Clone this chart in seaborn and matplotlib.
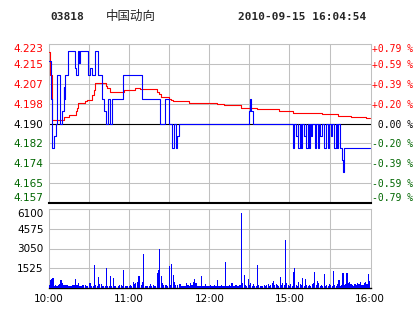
import numpy as np
import pandas as pd
import matplotlib
matplotlib.use("Agg")
import matplotlib.pyplot as plt
import seaborn as sns

# ---------------- data ----------------
stock_code = "03818"
stock_name = "中国动向"
timestamp = "2010-09-15 16:04:54"
base_price = 4.19

left_labels = ["4.157", "4.165", "4.174", "4.182", "4.190", "4.198", "4.207", "4.215", "4.223"]
pct_labels = ["-0.79 %", "-0.59 %", "-0.39 %", "-0.20 %", " 0.00 %", "+0.20 %", "+0.39 %", "+0.59 %", "+0.79 %"]
time_ticks = [0, 60, 120, 180, 240]
time_labels = ["10:00", "11:00", "12:00", "15:00", "16:00"]
vol_ticks = [0, 1525, 3050, 4575, 6100]
vol_labels = ["", "1525", "3050", "4575", "6100"]

# price change points (minute since 10:00, price)
price_t = [0, 1.5, 2, 4, 5, 6, 8, 10, 11, 11.5, 12, 14.5, 19.5, 20.5, 21.5, 22.5, 23.5,
           29.5, 31, 32.5, 34.5, 36.5, 39.5, 41, 43, 44.5, 45.5, 47, 55.5,
           69.5, 83, 86.5, 89.5, 92, 93.3, 95.2, 96, 97.5, 98,
           149.5, 150.3, 151.3, 152.5,
           182.5, 183.5, 185, 186, 186.5, 187.5, 188.5, 189.5, 191, 192, 192.5, 193.5,
           194.5, 195.3, 196, 197, 199, 199.8, 201, 202, 203, 204, 206, 207, 208.5,
           209.3, 211, 212, 213.5, 214.5, 215.5, 216.5, 217.5, 219, 220, 221]
price_v = [4.216, 4.20, 4.18, 4.185, 4.19, 4.21, 4.19, 4.195, 4.205, 4.20, 4.21, 4.22, 4.213,
           4.21, 4.22, 4.215, 4.22,
           4.21, 4.213, 4.21, 4.22, 4.21, 4.20, 4.195, 4.19, 4.20, 4.19, 4.20, 4.21,
           4.20, 4.19, 4.20, 4.19, 4.18, 4.19, 4.18, 4.185, 4.19, 4.19,
           4.195, 4.20, 4.195, 4.19,
           4.18, 4.19, 4.185, 4.19, 4.18, 4.19, 4.18, 4.19, 4.185, 4.19, 4.18, 4.19,
           4.18, 4.19, 4.185, 4.19, 4.18, 4.19, 4.18, 4.19, 4.185, 4.19, 4.18, 4.19, 4.18,
           4.19, 4.185, 4.19, 4.18, 4.19, 4.18, 4.19, 4.18, 4.175, 4.17, 4.18]

# average price change points
avg_t = [0, 1, 2, 11, 15, 20, 21, 22, 27, 28.5, 32, 33.5, 34.5, 42.5, 43.5, 46, 56,
         64.5, 68, 81, 82.5, 84, 89.5, 91.5, 93, 104.5, 126, 131, 144, 156, 172,
         182.5, 204.5, 216, 226, 237]
avg_v = [4.2197, 4.21, 4.1916, 4.1927, 4.1937, 4.1950, 4.1964, 4.1985, 4.1992, 4.1999,
         4.2019, 4.2040, 4.2067, 4.2055, 4.2047, 4.2033, 4.2040,
         4.2048, 4.2042, 4.2033, 4.2022, 4.2012, 4.2003, 4.1997, 4.1992, 4.1987,
         4.1983, 4.1977, 4.1964, 4.1960, 4.1953,
         4.1945, 4.1940, 4.1933, 4.1927, 4.1922]

volume = [
    250, 635, 710, 760, 130, 254, 180, 254, 300, 635,
    380, 254, 254, 254, 254, 180, 180, 180, 254, 254,
    710, 254, 380, 180, 180, 254, 254, 254, 180, 180,
    380, 380, 180, 180, 1780, 254, 180, 860, 330, 330,
    180, 180, 180, 1520, 180, 180, 940, 180, 810, 180,
    180, 0, 180, 254, 254, 180, 1400, 180, 180, 180,
    180, 254, 180, 460, 330, 380, 430, 940, 940, 254,
    430, 2590, 180, 180, 180, 180, 330, 180, 254, 180,
    180, 1140, 1400, 3000, 890, 380, 254, 254, 254, 180,
    1700, 254, 1850, 1016, 500, 254, 254, 0, 330, 180,
    180, 180, 180, 380, 254, 180, 380, 254, 460, 710,
    380, 180, 180, 180, 890, 180, 180, 330, 180, 180,
    180, 254, 180, 180, 254, 180, 635, 180, 180, 254,
    180, 180, 1980, 180, 180, 254, 180, 380, 180, 180,
    254, 180, 180, 254, 5790, 380, 1016, 254, 180, 710,
    254, 380, 180, 330, 180, 180, 1780, 254, 180, 180,
    180, 254, 180, 254, 330, 180, 254, 380, 560, 254,
    330, 254, 180, 860, 254, 380, 254, 3680, 380, 254,
    180, 330, 180, 1245, 1550, 254, 180, 430, 330, 254,
    790, 180, 710, 254, 180, 254, 180, 330, 380, 1245,
    254, 560, 380, 180, 254, 180, 1090, 180, 254, 180,
    330, 254, 180, 1320, 254, 180, 330, 635, 180, 254,
    1170, 254, 330, 1170, 380, 460, 330, 254, 180, 330,
    254, 380, 330, 460, 254, 254, 380, 460, 330, 1090,
    560]

# ---------------- style ----------------
sns.set_style("white")
plt.rcParams["font.family"] = ["DejaVu Sans", "Noto Sans CJK SC"]

RED = "#ff0000"
BLUE = "#0000ff"
GREEN = "#006600"
GRID = "#c0c0c0"
MONO = "DejaVu Sans Mono"
LW = 0.8
GLW = 0.75

W, H = 414, 314
fig = plt.figure(figsize=(W / 100, H / 100), dpi=100)
fig.patch.set_facecolor("white")


def rect(x0, y0, x1, y1):
    return [x0 / W, 1 - y1 / H, (x1 - x0) / W, (y1 - y0) / H]


ax = fig.add_axes(rect(49, 44, 371, 203))
axv = fig.add_axes(rect(49, 209, 371, 288))

XMAX = 241
ymin = base_price * (1 - 0.0079)
ymax = base_price * (1 + 0.0079)
yt = np.linspace(ymin, ymax, 9)

# ---------------- price panel ----------------
for t in range(30, 240, 30):
    ax.axvline(t, color=GRID, lw=GLW, zorder=0)
for y in yt:
    ax.axhline(y, color=GRID, lw=GLW, zorder=0)
ax.axhline(base_price, color="black", lw=LW, zorder=1)

price_df = pd.DataFrame({"minute": price_t + [240], "price": price_v + [price_v[-1]]})
avg_df = pd.DataFrame({"minute": avg_t + [240], "avg": avg_v + [avg_v[-1]]})

sns.lineplot(data=avg_df, x="minute", y="avg", ax=ax, color=RED, lw=LW,
             drawstyle="steps-post", estimator=None, sort=False, zorder=3)
sns.lineplot(data=price_df, x="minute", y="price", ax=ax, color=BLUE, lw=LW,
             drawstyle="steps-post", estimator=None, sort=False, zorder=4)

ax.set_xlim(0, XMAX)
ax.set_ylim(ymin, ymax)
ax.set_xlabel("")
ax.set_ylabel("")
ax.set_xticks([])
ax.set_yticks(yt, labels=left_labels)
ax.tick_params(axis="y", length=0, pad=4, labelsize=7.5)
labs = ax.get_yticklabels()
for i, lab in enumerate(labs):
    lab.set_color(GREEN if i < 4 else ("black" if i == 4 else RED))
labs[0].set_verticalalignment("bottom")
labs[-1].set_verticalalignment("top")
for s in ["top", "left", "right"]:
    ax.spines[s].set_color(GRID)
    ax.spines[s].set_linewidth(GLW)
ax.spines["bottom"].set_color("black")
ax.spines["bottom"].set_linewidth(1.5)

axr = ax.twinx()
axr.set_ylim(ymin, ymax)
axr.set_yticks(yt, labels=pct_labels)
axr.tick_params(axis="y", length=0, pad=1, labelsize=7)
rlabs = axr.get_yticklabels()
for i, lab in enumerate(rlabs):
    lab.set_family(MONO)
    lab.set_color(GREEN if i < 4 else ("black" if i == 4 else RED))
rlabs[0].set_verticalalignment("bottom")
rlabs[-1].set_verticalalignment("top")
for s in axr.spines.values():
    s.set_visible(False)

# ---------------- volume panel ----------------
for t in range(30, 240, 30):
    axv.axvline(t, color=GRID, lw=GLW, zorder=0)
for v in vol_ticks[1:]:
    axv.axhline(v, color=GRID, lw=GLW, zorder=0)

vol_df = pd.DataFrame({"minute": np.arange(len(volume)), "volume": volume})
sns.barplot(data=vol_df, x="minute", y="volume", ax=axv, native_scale=True,
            color=BLUE, saturation=1, width=0.85, linewidth=0, edgecolor=BLUE,
            errorbar=None, zorder=3)
for p in axv.patches:
    p.set_facecolor(BLUE)
    p.set_edgecolor("none")
    p.set_antialiased(False)

axv.set_xlim(0, XMAX)
axv.set_ylim(0, 6100)
axv.set_xlabel("")
axv.set_ylabel("")
axv.set_yticks(vol_ticks, labels=vol_labels)
axv.set_xticks(time_ticks, labels=time_labels)
axv.tick_params(axis="y", length=0, pad=4, labelsize=7.5, labelcolor="black")
axv.tick_params(axis="x", length=0, pad=4, labelsize=7.5, labelcolor="black")
axv.get_yticklabels()[-1].set_verticalalignment("top")
for s in ["top", "left", "right"]:
    axv.spines[s].set_color(GRID)
    axv.spines[s].set_linewidth(GLW)
axv.spines["bottom"].set_color("black")
axv.spines["bottom"].set_linewidth(1.0)

# ---------------- header ----------------
fig.text(50 / W, 1 - 17 / H, stock_code, family=MONO, fontweight="bold",
         fontsize=8, va="center", ha="left")
fig.text(106 / W, 1 - 16 / H, stock_name, family=["Noto Sans CJK SC", "DejaVu Sans"],
         fontsize=9, va="center", ha="left")
fig.text(238 / W, 1 - 17 / H, timestamp, family=MONO, fontweight="bold",
         fontsize=8, va="center", ha="left")

fig.savefig("out.png", dpi=100, facecolor="white")
